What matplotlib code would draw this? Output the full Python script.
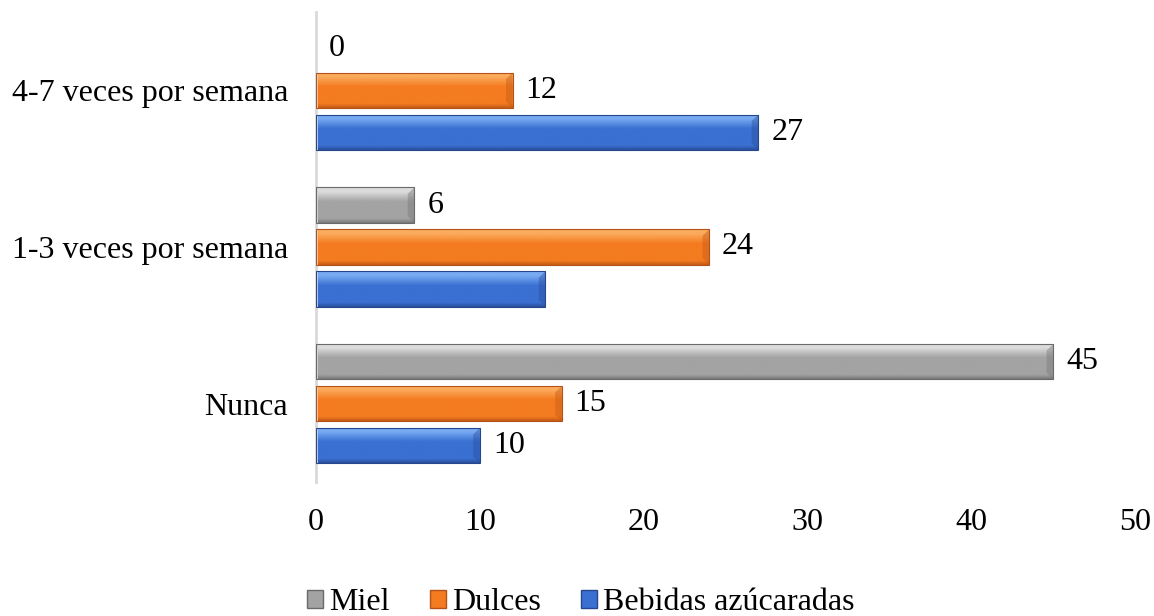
import numpy as np
import matplotlib
matplotlib.use("Agg")
import matplotlib.pyplot as plt
from matplotlib.colors import LinearSegmentedColormap
from matplotlib.patches import Patch

categories = ["Nunca", "1-3 veces por semana", "4-7 veces por semana"]
series_names = ["Miel", "Dulces", "Bebidas azúcaradas"]
miel = [45, 6, 0]
dulces = [15, 24, 12]
bebidas = [10, 14, 27]
# labels shown next to each bar (None = no label)
miel_labels = ["45", "6", "0"]
dulces_labels = ["15", "24", "12"]
bebidas_labels = ["10", None, "27"]
x_ticks = [0, 10, 20, 30, 40, 50]

# (top, mid, bottom, edge) shades for the bevelled look
shades = {
    "Miel": ("#dcdcdc", "#a3a3a3", "#7a7a7a", "#6a6a6a"),
    "Dulces": ("#fbab5c", "#f47b20", "#c65c16", "#b5521a"),
    "Bebidas azúcaradas": ("#78aaf2", "#3a70d2", "#2a4f9e", "#27478c"),
}

plt.rcParams["font.family"] = ["Liberation Serif", "DejaVu Serif"]
FS = 23

fig = plt.figure(figsize=(11.54, 6.16), dpi=100)
W, H = 1154, 616
ax = fig.add_axes([316 / W, 1 - 482 / H, (1135 - 316) / W, (482 - 12) / H])

y = np.arange(len(categories))
step = 0.268
height = 0.224
series = [(series_names[0], miel, miel_labels, step),
          (series_names[1], dulces, dulces_labels, 0.0),
          (series_names[2], bebidas, bebidas_labels, -step)]

ax.set_xlim(0, 50)
ax.set_ylim(-0.5, 2.5)


def shade_bar(ax, bar, cols):
    top, mid, bot, edge = cols
    cmap = LinearSegmentedColormap.from_list(
        "bev", [(0.0, bot), (0.12, mid), (0.6, mid), (0.88, top), (1.0, top)])
    x0, y0 = bar.get_x(), bar.get_y()
    w, h = bar.get_width(), bar.get_height()
    g = np.linspace(0, 1, 64).reshape(-1, 1)
    im = ax.imshow(g, extent=(x0, x0 + w, y0, y0 + h), origin="lower",
                   cmap=cmap, aspect="auto", zorder=2, interpolation="bilinear")
    im.set_clip_path(bar)
    # darker right bevel
    bw = min(0.4, w * 0.3)
    ax.fill([x0 + w - bw, x0 + w, x0 + w, x0 + w - bw],
            [y0 + h * 0.18, y0, y0 + h, y0 + h * 0.82],
            color=bot, alpha=0.45, lw=0, zorder=3)


for name, vals, labels, off in series:
    cols = shades[name]
    bars = ax.barh(y + off, vals, height=height, color=cols[1],
                   linewidth=0, zorder=1)
    for b, lab in zip(bars, labels):
        if b.get_width() > 0:
            shade_bar(ax, b, cols)
            ax.add_patch(plt.Rectangle((b.get_x(), b.get_y()), b.get_width(),
                                       b.get_height(), fill=False,
                                       edgecolor=cols[3], lw=0.8, zorder=4))
        if lab is not None:
            ax.annotate(lab, (b.get_width(), b.get_y() + b.get_height() / 2),
                        xytext=(13, 0), textcoords="offset pixels",
                        va="center", ha="left", fontsize=FS, color="black")

ax.set_yticks(y)
ax.set_yticklabels(categories, fontsize=FS)
ax.set_xticks(x_ticks)
ax.set_xticklabels([str(t) for t in x_ticks], fontsize=FS)
ax.tick_params(axis="both", length=0)
ax.tick_params(axis="y", pad=20)
ax.tick_params(axis="x", pad=19)
for s in ["top", "right", "bottom"]:
    ax.spines[s].set_visible(False)
ax.spines["left"].set_color("#d9d9d9")
ax.spines["left"].set_linewidth(2)

handles = [Patch(facecolor=shades[n][1], edgecolor=shades[n][3], label=n)
           for n in series_names]
fig.legend(handles=handles, loc="center", bbox_to_anchor=(581 / W, 1 - 603 / H),
           ncol=3, frameon=False, fontsize=FS, handlelength=0.5, handleheight=0.5,
           handletextpad=0.2, columnspacing=1.25, borderaxespad=0, borderpad=0)

fig.savefig("out.png", dpi=100, facecolor="white")
